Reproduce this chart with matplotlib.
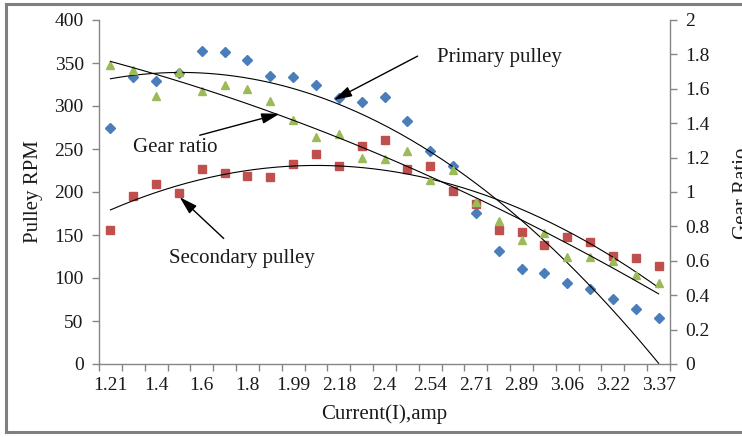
import matplotlib
matplotlib.use("Agg")
import matplotlib.pyplot as plt
from matplotlib.lines import Line2D
from matplotlib.ticker import FixedLocator, NullFormatter
import numpy as np

plt.rcParams["font.family"] = ["Liberation Serif", "DejaVu Serif"]

# ---------------------------------------------------------------------------
# Data: current steps (amp) and measured speeds / ratio
# ---------------------------------------------------------------------------
current = [1.21, 1.3, 1.4, 1.5, 1.6, 1.7, 1.8, 1.9, 1.99, 2.09, 2.18, 2.3, 2.4,
           2.47, 2.54, 2.63, 2.71, 2.8, 2.89, 2.97, 3.06, 3.14, 3.22, 3.3, 3.37]
primary_rpm = [275, 334, 329, 338, 364, 363, 354, 335, 334, 325, 309, 305, 310,
               283, 248, 230, 176, 131, 111, 106, 94, 87, 76, 64, 53]
secondary_rpm = [156, 195, 209, 199, 227, 222, 219, 217, 232, 244, 230, 253, 260,
                 227, 230, 201, 186, 156, 154, 138, 148, 142, 126, 123, 114]
gear_ratio = [1.74, 1.71, 1.56, 1.70, 1.59, 1.62, 1.60, 1.53, 1.42, 1.32, 1.34, 1.20,
              1.19, 1.24, 1.07, 1.13, 0.94, 0.83, 0.72, 0.76, 0.62, 0.62, 0.60, 0.52, 0.47]

BLUE = "#4a7ebb"
RED = "#c0504d"
GREEN = "#9bbb59"
AXIS_GREY = "#868686"
TEXT = "#1a1a1a"
FS = 14

idx = np.arange(len(current))
fine = np.linspace(idx[0], idx[-1], 200)


def poly_trend(values):
    coef = np.polyfit(idx + 1, values, 2)
    return np.polyval(coef, fine + 1)


fig = plt.figure(figsize=(7.42, 4.37), dpi=100)
ax = fig.add_axes([99 / 742, 1 - 364 / 437, (670 - 99) / 742, (364 - 20) / 437])
ax2 = ax.twinx()

ax.plot(idx, primary_rpm, linestyle="none", marker="D", ms=4.6, color=BLUE, zorder=3)
ax.plot(idx, secondary_rpm, linestyle="none", marker="s", ms=5.6, color=RED, zorder=3)
ax2.plot(idx, gear_ratio, linestyle="none", marker="^", ms=6, color=GREEN, zorder=3)

ax.plot(fine, poly_trend(primary_rpm), color="black", lw=0.8, zorder=4)
ax.plot(fine, poly_trend(secondary_rpm), color="black", lw=0.8, zorder=4)
ax2.plot(fine, poly_trend(gear_ratio), color="black", lw=0.8, zorder=4)

# axes limits and ticks
ax.set_xlim(-0.5, len(current) - 0.5)
ax.set_ylim(0, 400)
ax2.set_ylim(0, 2)
ax.set_yticks(np.arange(0, 401, 50))
ax2.set_yticks(np.arange(0, 2.01, 0.2))
ax2.set_yticklabels(["0", "0.2", "0.4", "0.6", "0.8", "1", "1.2", "1.4", "1.6", "1.8", "2"])

ax.set_xticks(idx[::2])
ax.set_xticklabels([f"{c:g}" for c in current[::2]])
ax.xaxis.set_minor_locator(FixedLocator(np.arange(-0.5, len(current), 1.0)))
ax.xaxis.set_minor_formatter(NullFormatter())
ax.tick_params(axis="x", which="major", length=0, pad=9, labelsize=FS, labelcolor=TEXT)
ax.tick_params(axis="x", which="minor", length=5, width=1, color=AXIS_GREY, direction="out")
ax.tick_params(axis="y", length=5, width=1, color=AXIS_GREY, direction="out",
               pad=6, labelsize=FS, labelcolor=TEXT)
ax2.tick_params(axis="y", length=5, width=1, color=AXIS_GREY, direction="out",
                pad=6, labelsize=FS, labelcolor=TEXT)

for a in (ax, ax2):
    a.spines["top"].set_visible(False)
    for s in ("left", "right", "bottom"):
        a.spines[s].set_color(AXIS_GREY)
        a.spines[s].set_linewidth(1)
ax.spines["right"].set_visible(False)
ax2.spines["left"].set_visible(False)
ax2.spines["bottom"].set_visible(False)

ax.set_xlabel("Current(I),amp", fontsize=15, color=TEXT, labelpad=8)
ax.set_ylabel("Pulley RPM", fontsize=15, color=TEXT, labelpad=8)
fig.text(733 / 742, 1 - 193 / 437, "Gear Ratio", rotation=90, ha="left", va="center",
         fontsize=15, color=TEXT)

# callouts
arrow = dict(arrowstyle="-|>,head_length=0.55,head_width=0.16", color="black",
             lw=1, shrinkA=0, shrinkB=0, mutation_scale=20)
ax.annotate("", xy=(9.78, 307), xytext=(13.45, 358), arrowprops=arrow, zorder=5)
ax.text(17.05, 356, "Primary pulley", fontsize=15, color=TEXT, ha="center", va="center")
ax.annotate("", xy=(7.41, 291), xytext=(3.91, 266), arrowprops=arrow, zorder=5)
ax.text(2.86, 252, "Gear ratio", fontsize=15, color=TEXT, ha="center", va="center")
ax.annotate("", xy=(3.03, 194), xytext=(4.96, 146), arrowprops=arrow, zorder=5)
ax.text(5.75, 123, "Secondary pulley", fontsize=15, color=TEXT, ha="center", va="center")

# grey frame around the chart (runs off the right edge)
frame_kw = dict(color="#7f7f7f", lw=2.2, transform=fig.transFigure)
fig.add_artist(Line2D([6 / 742, 6 / 742], [1 - 4 / 437, 1 - 432 / 437], **frame_kw))
fig.add_artist(Line2D([6 / 742, 1.0], [1 - 4 / 437, 1 - 4 / 437], **frame_kw))
fig.add_artist(Line2D([6 / 742, 1.0], [1 - 432 / 437, 1 - 432 / 437], **frame_kw))

fig.savefig("out.png", dpi=100)
